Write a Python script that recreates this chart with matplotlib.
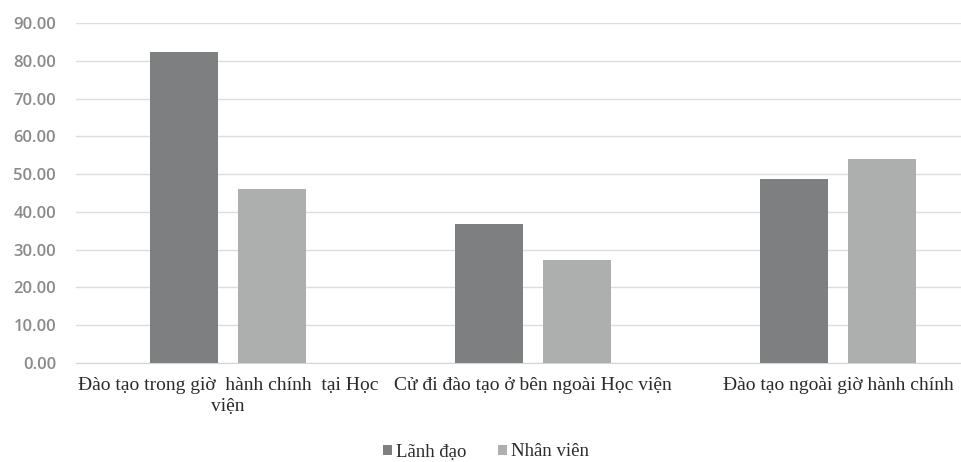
import matplotlib
matplotlib.use("Agg")
import matplotlib.pyplot as plt
import numpy as np

categories = [
    "Đào tạo trong giờ  hành chính  tại Học\nviện",
    "Cử đi đào tạo ở bên ngoài Học viện",
    "Đào tạo ngoài giờ hành chính",
]
lanh_dao = [82.4, 36.7, 48.6]
nhan_vien = [46.1, 27.3, 53.9]
y_ticks = [0, 10, 20, 30, 40, 50, 60, 70, 80, 90]

W, H = 962, 462
fig = plt.figure(figsize=(W / 100, H / 100), dpi=100)
fig.patch.set_facecolor("white")

# plot area in pixel terms: x from 75.5 to 990.5, y from 23 to 363 (top-down)
left, right = 75.5, 990.5
top, bottom = 23, 363
ax = fig.add_axes([left / W, (H - bottom) / H, (right - left) / W, (bottom - top) / H])

x = np.arange(len(categories))
bw = 0.223
off = 0.143
c_dark = "#7e7f80"
c_light = "#adafaf"
ax.bar(x - off, lanh_dao, width=bw, color=c_dark, zorder=3, label="Lãnh đạo")
ax.bar(x + off, nhan_vien, width=bw, color=c_light, zorder=3, label="Nhân viên")

ax.set_xlim(-0.5, 2.5)
ax.set_ylim(0, 90)
ax.set_yticks(y_ticks)
ax.set_yticklabels([f"{v:.2f}" for v in y_ticks], family="Open Sans",
                   fontsize=12, color="#8a8a8a", fontweight="semibold")
ax.yaxis.grid(True, color="#dcdcdc", linewidth=1, zorder=0)
ax.set_axisbelow(True)
for s in ["top", "right", "left"]:
    ax.spines[s].set_visible(False)
ax.spines["bottom"].set_color("#d4d4d4")
ax.tick_params(axis="both", length=0)
ax.tick_params(axis="y", pad=14)

ax.set_xticks(x)
ax.set_xticklabels(categories, family="Liberation Serif", fontsize=14,
                   color="#2a2a2a", linespacing=1.35)
ax.tick_params(axis="x", pad=10)

leg = fig.legend(loc="center", bbox_to_anchor=(486 / W, 1 - 452 / H), ncol=2,
                 frameon=False, prop={"family": "Liberation Serif", "size": 13.5},
                 handlelength=0.5, handleheight=0.5, handletextpad=0.2,
                 columnspacing=1.7, labelcolor="#2a2a2a")

fig.savefig("out.png", dpi=100, facecolor="white")
